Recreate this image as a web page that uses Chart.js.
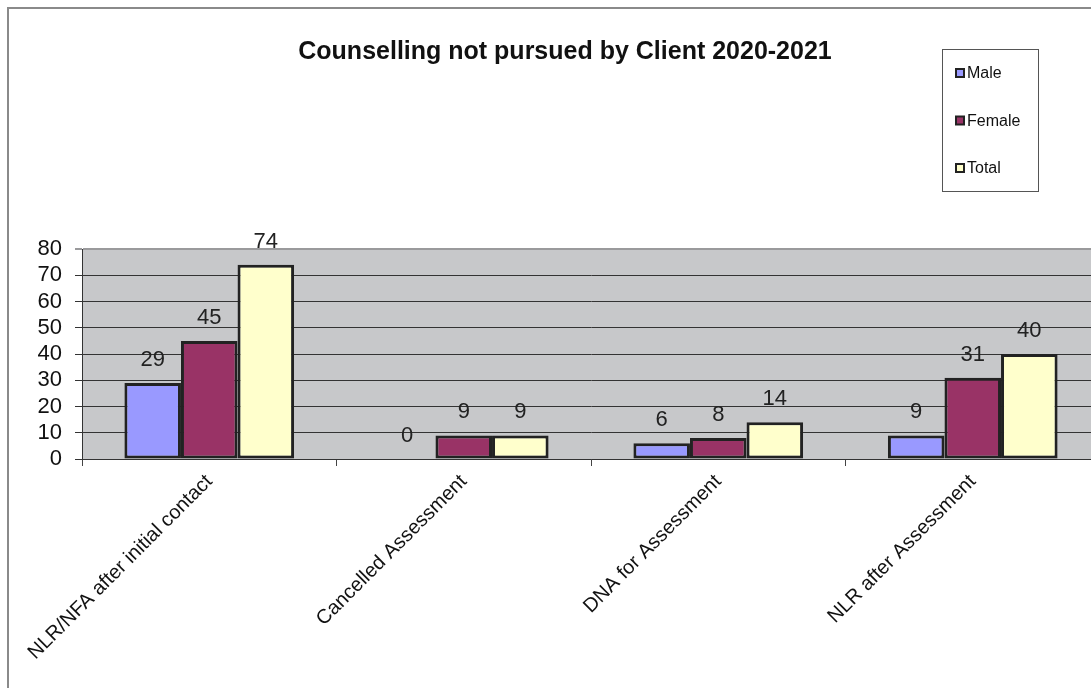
<!DOCTYPE html>
<html>
<head>
<meta charset="utf-8">
<script src="https://cdn.jsdelivr.net/npm/chart.js@4.4.1/dist/chart.umd.min.js"></script>
<style>
  html, body { margin: 0; padding: 0; background: #fff; overflow: hidden; }
  #wrap { position: absolute; left: 0; top: 0; width: 1100px; height: 688px; }
</style>
</head>
<body>
<div id="wrap"><canvas id="myChart" width="1100" height="688"></canvas></div>
<script>
// counselling not pursued, by reason
var categories = ['NLR/NFA after initial contact', 'Cancelled Assessment', 'DNA for Assessment', 'NLR after Assessment']
var male = [29, 0, 6, 9]
var female = [45, 9, 8, 31]
var total = [74, 9, 14, 40]
var seriesNames = ['Male', 'Female', 'Total']
var yMax = 80
var yStep = 10

var FONT = '"Liberation Sans", Arial, sans-serif'

// white page, frame, grey plot area
var background = {
  id: 'background',
  beforeDraw: function(chart) {
    var ctx = chart.ctx
    var a = chart.chartArea
    ctx.save()
    ctx.fillStyle = '#fff'
    ctx.fillRect(0, 0, chart.width, chart.height)
    ctx.strokeStyle = '#8a8a8a'
    ctx.lineWidth = 2
    ctx.beginPath()
    ctx.moveTo(8, chart.height)
    ctx.lineTo(8, 8)
    ctx.lineTo(chart.width, 8)
    ctx.stroke()
    ctx.fillStyle = '#c7c8ca'
    ctx.fillRect(a.left, a.top, a.right - a.left, a.bottom - a.top)
    ctx.restore()
  }
}

// title and the boxed legend in the top right
var decorations = {
  id: 'decorations',
  afterDraw: function(chart) {
    var ctx = chart.ctx
    ctx.save()
    ctx.fillStyle = '#111'
    ctx.font = 'bold 25px ' + FONT
    ctx.textAlign = 'center'
    ctx.textBaseline = 'middle'
    ctx.fillText('Counselling not pursued by Client 2020-2021', 565, 52)

    // legend
    ctx.strokeStyle = '#555'
    ctx.lineWidth = 1
    ctx.strokeRect(942.5, 49.5, 96, 142)
    ctx.font = '16px ' + FONT
    ctx.textAlign = 'left'
    chart.data.datasets.forEach(function(ds, i) {
      var y = 73 + i * 47.5
      ctx.fillStyle = ds.backgroundColor
      ctx.fillRect(956, y - 4, 8, 8)
      ctx.strokeStyle = '#222'
      ctx.lineWidth = 2
      ctx.strokeRect(956, y - 4, 8, 8)
      ctx.fillStyle = '#111'
      ctx.fillText(ds.label, 967, y + 1)
    })
    ctx.restore()
  }
}

// value labels above each bar
var valueLabels = {
  id: 'valueLabels',
  afterDatasetsDraw: function(chart) {
    var ctx = chart.ctx
    ctx.save()
    ctx.font = '22px ' + FONT
    ctx.fillStyle = '#222'
    ctx.textAlign = 'center'
    ctx.textBaseline = 'middle'
    chart.data.datasets.forEach(function(ds, i) {
      chart.getDatasetMeta(i).data.forEach(function(bar, j) {
        ctx.fillText(String(ds.data[j]), bar.x, bar.y - 23)
      })
    })
    ctx.restore()
  }
}

function barBorder(ctx) {
  return ctx.raw === 0 ? 0 : 3
}

var ctx = document.getElementById('myChart').getContext('2d')
var chart = new Chart(ctx, {
  type: 'bar',
  data: {
    labels: categories,
    datasets: [
      { label: seriesNames[0], data: male, backgroundColor: '#9999ff' },
      { label: seriesNames[1], data: female, backgroundColor: '#993366' },
      { label: seriesNames[2], data: total, backgroundColor: '#ffffcc' }
    ]
  },
  options: {
    responsive: false,
    animation: false,
    layout: { padding: { top: 249, left: 0, right: 0, bottom: 0 } },
    datasets: {
      bar: {
        categoryPercentage: 3 / 4.5,
        barPercentage: 1,
        borderColor: '#222',
        borderWidth: barBorder,
        borderSkipped: false
      }
    },
    plugins: {
      legend: { display: false },
      title: { display: false },
      tooltip: { enabled: false }
    },
    scales: {
      x: {
        grid: { drawOnChartArea: false, drawTicks: true, tickLength: 7, color: '#444', offset: true },
        border: { color: '#333', width: 1 },
        ticks: { minRotation: 45, maxRotation: 45, autoSkip: false, color: '#111', padding: 4, font: { family: FONT, size: 20 } },
        afterFit: function(s) { s.height = 688 - 459 }
      },
      y: {
        min: 0,
        max: yMax,
        grid: {
          color: function(c) { return c.tick && c.tick.value === yMax ? '#9a9a9c' : '#333' },
          lineWidth: function(c) { return c.tick && c.tick.value === yMax ? 2 : 1 },
          tickLength: 7
        },
        border: { color: '#333', width: 1 },
        ticks: { stepSize: yStep, autoSkip: false, color: '#111', padding: 13, font: { family: FONT, size: 22 } },
        afterFit: function(s) { s.width = 82 }
      }
    }
  },
  plugins: [background, decorations, valueLabels]
})
</script>
</body>
</html>
